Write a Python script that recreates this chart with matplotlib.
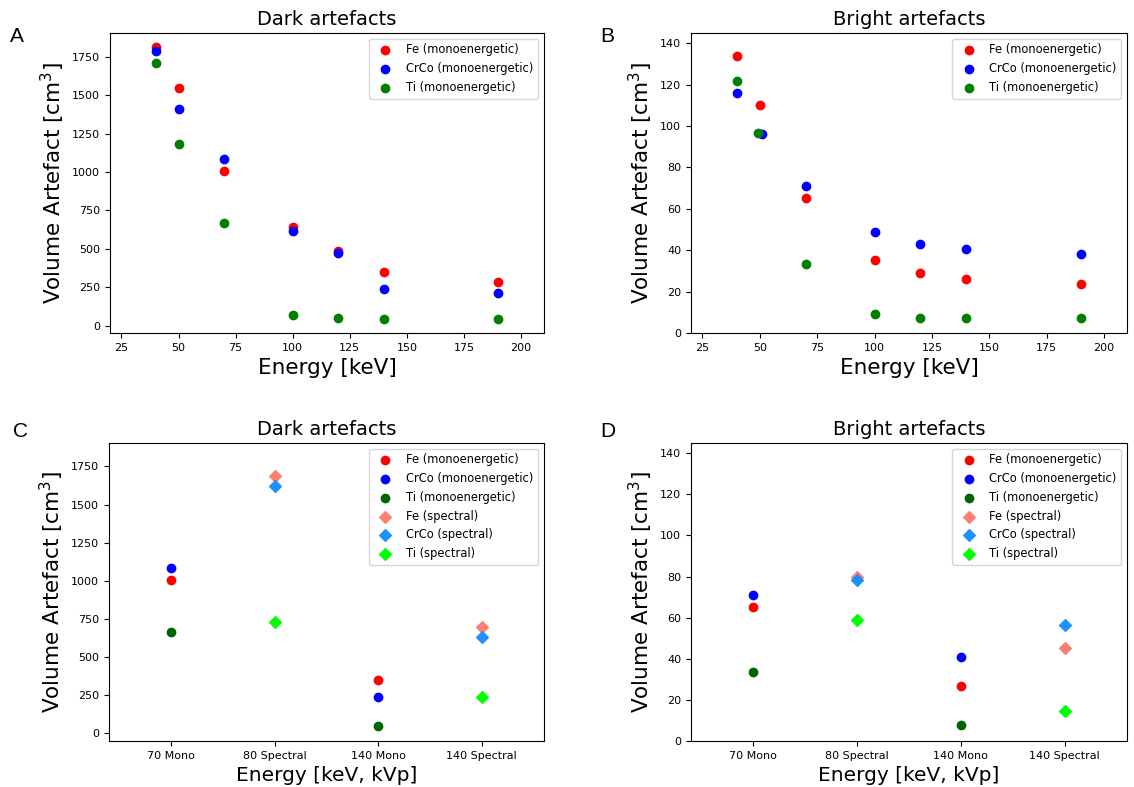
import numpy as np
import matplotlib
matplotlib.use('Agg')
import matplotlib.pyplot as plt

# данные: моноэнергетические (A, B)
energy = [40, 50, 70, 100, 120, 140, 190]

dark_fe = [1810, 1546, 1008, 642, 488, 347, 282]
dark_crco = [1785, 1412, 1087, 614, 473, 239, 210]
dark_ti = [1711, 1182, 666, 69, 50, 46, 43]

bright_energy_fe = [40, 50, 70, 100, 120, 140, 190]
bright_energy_crco = [40, 51, 70, 100, 120, 140, 190]
bright_energy_ti = [40, 49, 70, 100, 120, 140, 190]
bright_fe = [133.9, 110.0, 65.2, 35.5, 29.2, 26.3, 23.9]
bright_crco = [115.8, 96.3, 71.0, 48.9, 43.2, 40.8, 38.2]
bright_ti = [121.9, 96.8, 33.5, 9.4, 7.4, 7.4, 7.3]

# данные: сравнение моно / спектр (C, D)
categories = ['70 Mono', '80 Spectral', '140 Mono', '140 Spectral']
mono_cats = ['70 Mono', '140 Mono']
spec_cats = ['80 Spectral', '140 Spectral']

dark_mono_fe = [1008, 347]
dark_mono_crco = [1087, 239]
dark_mono_ti = [666, 46]
dark_spec_fe = [1689, 697]
dark_spec_crco = [1622, 632]
dark_spec_ti = [732, 241]

bright_mono_fe = [65.3, 26.6]
bright_mono_crco = [71.1, 41.0]
bright_mono_ti = [33.7, 7.7]
bright_spec_fe = [79.8, 45.2]
bright_spec_crco = [78.1, 56.3]
bright_spec_ti = [59.0, 14.7]

W, H = 1134, 787
fig = plt.figure(figsize=(W / 100, H / 100), dpi=100)


def box(l, r, t, b):
    return [l / W, 1 - b / H, (r - l) / W, (b - t) / H]


axA = fig.add_axes(box(110, 544, 33, 333))
axB = fig.add_axes(box(691, 1127, 33, 333))
axC = fig.add_axes(box(109, 544, 443, 741))
axD = fig.add_axes(box(691, 1127, 443, 741))

ylab = 'Volume Artefact [cm$^3$]'

# A
axA.scatter(energy, dark_fe, color='red', label='Fe (monoenergetic)')
axA.scatter(energy, dark_crco, color='blue', label='CrCo (monoenergetic)')
axA.scatter(energy, dark_ti, color='green', label='Ti (monoenergetic)')
axA.set_xlim(20, 210)
axA.set_ylim(-48, 1904)
axA.set_title('Dark artefacts', fontsize=14)
axA.set_xlabel('Energy [keV]', fontsize=15.5)

# B
axB.scatter(bright_energy_fe, bright_fe, color='red', label='Fe (monoenergetic)')
axB.scatter(bright_energy_crco, bright_crco, color='blue', label='CrCo (monoenergetic)')
axB.scatter(bright_energy_ti, bright_ti, color='green', label='Ti (monoenergetic)')
axB.set_xlim(20, 210)
axB.set_ylim(0, 145)
axB.set_title('Bright artefacts', fontsize=14)
axB.set_xlabel('Energy [keV]', fontsize=15.5)

# C
pos = {c: i for i, c in enumerate(categories)}
xm = [pos[c] for c in mono_cats]
xs = [pos[c] for c in spec_cats]

axC.scatter(xm, dark_mono_fe, color='red', label='Fe (monoenergetic)')
axC.scatter(xm, dark_mono_crco, color='blue', label='CrCo (monoenergetic)')
axC.scatter(xm, dark_mono_ti, color='darkgreen', label='Ti (monoenergetic)')
axC.scatter(xs, dark_spec_fe, color='salmon', marker='D', label='Fe (spectral)')
axC.scatter(xs, dark_spec_crco, color='dodgerblue', marker='D', label='CrCo (spectral)')
axC.scatter(xs, dark_spec_ti, color='lime', marker='D', label='Ti (spectral)')
axC.set_ylim(-50, 1904)
axC.set_title('Dark artefacts', fontsize=14)
axC.set_xlabel('Energy [keV, kVp]', fontsize=14.5)

# D
axD.scatter(xm, bright_mono_fe, color='red', label='Fe (monoenergetic)')
axD.scatter(xm, bright_mono_crco, color='blue', label='CrCo (monoenergetic)')
axD.scatter(xm, bright_mono_ti, color='darkgreen', label='Ti (monoenergetic)')
axD.scatter(xs, bright_spec_fe, color='salmon', marker='D', label='Fe (spectral)')
axD.scatter(xs, bright_spec_crco, color='dodgerblue', marker='D', label='CrCo (spectral)')
axD.scatter(xs, bright_spec_ti, color='lime', marker='D', label='Ti (spectral)')
axD.set_ylim(0, 145)
axD.set_title('Bright artefacts', fontsize=14)
axD.set_xlabel('Energy [keV, kVp]', fontsize=14.5)

for ax in (axC, axD):
    ax.set_xticks(range(len(categories)))
    ax.set_xticklabels(categories)
    ax.set_xlim(-0.6, 3.6)

for ax in (axA, axB, axC, axD):
    ax.set_ylabel(ylab, fontsize=15.5)
    ax.tick_params(labelsize=8)
    ax.legend(loc='upper right', fontsize=8.3)

# буквы панелей
for letter, (px, py) in zip('ABCD', [(10, 42), (600, 42), (13, 437), (600, 437)]):
    fig.text(px / W, 1 - py / H, letter, fontsize=15, family='Liberation Sans')

fig.savefig('out.png', dpi=100)
print('done')
